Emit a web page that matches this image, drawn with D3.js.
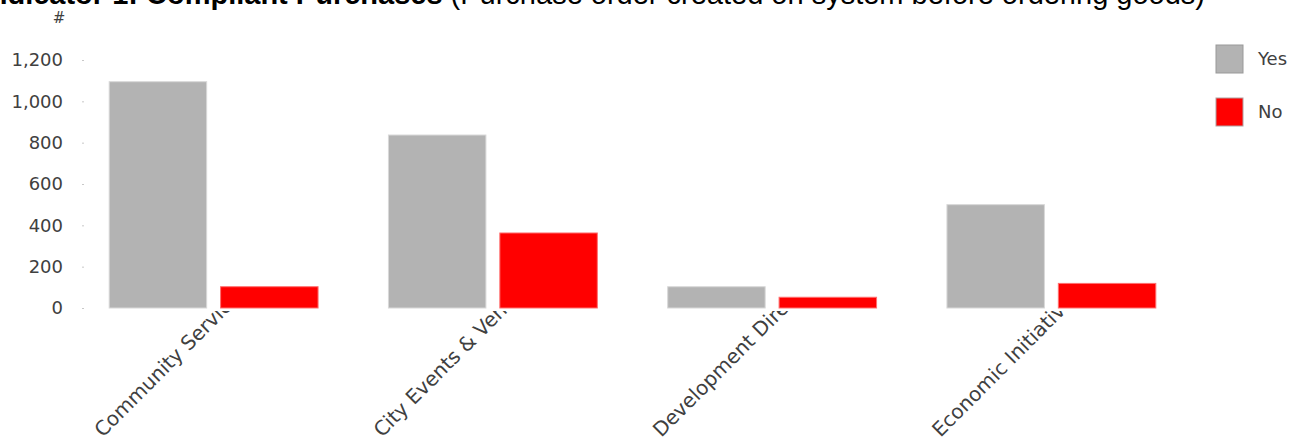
<!DOCTYPE html>
<html>
<head>
<meta charset="utf-8">
<script src="https://cdn.jsdelivr.net/npm/d3@7"></script>
<style>
  html, body { margin: 0; padding: 0; background: #fff; overflow: hidden; }
  svg { display: block; }
</style>
</head>
<body>
<svg id="chart" width="1297" height="439"></svg>
<script>
const categories = ["Community Services", "City Events & Venues", "Development Directorate", "Economic Initiatives"];
const seriesNames = ["Yes", "No"];
const yesValues = [1095, 837, 103, 500];
const noValues = [103, 363, 52, 119];
const yTicks = [0, 200, 400, 600, 800, 1000, 1200];
const titleBold = "Indicator 1: Compliant Purchases";
const titleRest = " (Purchase order created on system before ordering goods)";
const yAxisTitle = "#";
const colors = { Yes: "#b3b3b3", No: "#ff0000" };

const data = categories.map((c, i) => ({ category: c, Yes: yesValues[i], No: noValues[i] }));

const svg = d3.select("#chart");
const W = 1297, H = 439;
const plotBottom = 308;

const x0 = d3.scaleBand().domain(categories).range([74, 1191]).paddingInner(0.252).paddingOuter(0.126);
const x1 = d3.scaleBand().domain(seriesNames).range([0, x0.bandwidth()]).paddingInner(0.125);
const y = d3.scaleLinear().domain([0, 1200]).range([plotBottom, 60]);

// Title
const title = svg.append("text")
  .attr("x", 1205).attr("y", 4)
  .attr("text-anchor", "end")
  .style("font-family", "'Liberation Sans', Arial, sans-serif")
  .style("font-size", "29px")
  .attr("fill", "#000");
title.append("tspan").attr("font-weight", "bold").text(titleBold);
title.append("tspan").text(titleRest);

// Y axis
const yAxis = d3.axisLeft(y).tickValues(yTicks).tickSize(2).tickPadding(19)
  .tickFormat(d3.format(","));
const gy = svg.append("g").attr("transform", "translate(84,0)").call(yAxis);
gy.select(".domain").remove();
gy.selectAll(".tick line").attr("stroke", "#c8c8c8");
gy.selectAll(".tick text")
  .style("font-family", "'DejaVu Sans', sans-serif")
  .style("font-size", "18px")
  .attr("fill", "#404040");

svg.append("text")
  .attr("x", 59).attr("y", 23)
  .attr("text-anchor", "middle")
  .style("font-family", "'DejaVu Sans', sans-serif")
  .style("font-size", "15px")
  .attr("fill", "#404040")
  .text(yAxisTitle);

// Bars
const groups = svg.append("g").selectAll("g").data(data).join("g")
  .attr("transform", d => `translate(${x0(d.category)},0)`);
groups.selectAll("rect")
  .data(d => seriesNames.map(s => ({ key: s, value: d[s] })))
  .join("rect")
  .attr("x", d => x1(d.key))
  .attr("width", x1.bandwidth())
  .attr("y", d => y(d.value))
  .attr("height", d => y(0) - y(d.value))
  .attr("fill", d => colors[d.key])
  .attr("stroke", d => d.key === "Yes" ? "#d8d8d8" : "#ff7070")
  .attr("stroke-width", 1);

// X labels (clipped below plot)
svg.append("clipPath").attr("id", "xclip")
  .append("rect").attr("x", 0).attr("y", 311).attr("width", W).attr("height", H - 311);
const gx = svg.append("g").attr("clip-path", "url(#xclip)");
gx.selectAll("text").data(categories).join("text")
  .attr("transform", d => {
    const cx = x0(d) + x0.bandwidth() / 2;
    return `translate(${cx - 111},${438}) rotate(-45)`;
  })
  .attr("text-anchor", "start")
  .style("font-family", "'DejaVu Sans', sans-serif")
  .style("font-size", "20px")
  .attr("fill", "#404040")
  .text(d => d);

// Legend
const legend = svg.append("g");
const leg = legend.selectAll("g").data(seriesNames).join("g")
  .attr("transform", (d, i) => `translate(1216,${45 + i * 53})`);
leg.append("rect")
  .attr("width", 27).attr("height", 28)
  .attr("fill", d => colors[d])
  .attr("stroke", d => d === "Yes" ? "#999" : "#b0a0a0")
  .attr("stroke-width", 1);
leg.append("text")
  .attr("x", 42).attr("y", 14).attr("dy", "0.35em")
  .style("font-family", "'DejaVu Sans', sans-serif")
  .style("font-size", "18px")
  .attr("fill", "#404040")
  .text(d => d);
</script>
</body>
</html>
